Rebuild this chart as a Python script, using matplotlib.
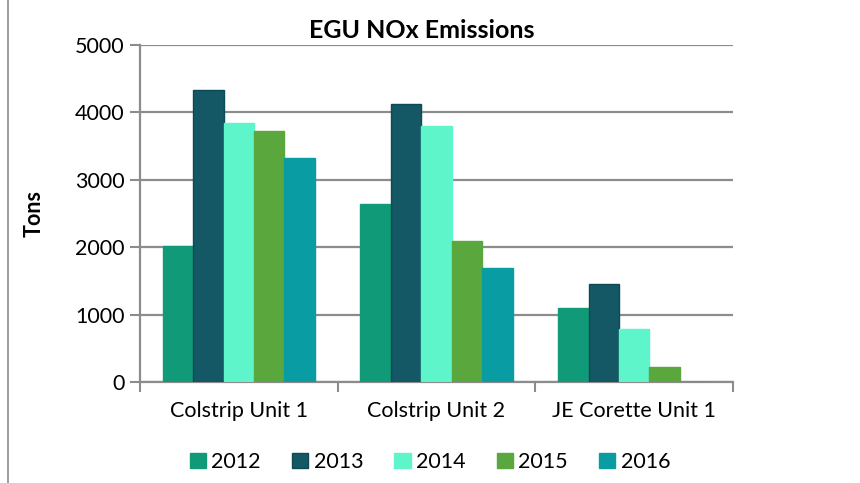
import matplotlib
matplotlib.use("Agg")
import matplotlib.pyplot as plt
import numpy as np
from matplotlib.patches import Patch
from matplotlib.lines import Line2D

plt.rcParams['font.family'] = ['Lato', 'DejaVu Sans']

categories = ["Colstrip Unit 1", "Colstrip Unit 2", "JE Corette Unit 1"]
years = ["2012", "2013", "2014", "2015", "2016"]
v2012 = [2025, 2634, 1104]
v2013 = [4332, 4124, 1455]
v2014 = [3837, 3792, 792]
v2015 = [3723, 2099, 218]
v2016 = [3317, 1698, 0]
series = [v2012, v2013, v2014, v2015, v2016]
colors = ["#109A78", "#135864", "#5FF5CB", "#5AA73D", "#0A9CA3"]
edges = ["#109A78", "#0D4A55", "#5FF5CB", "#5AA73D", "#0A9CA3"]
yticks = [0, 1000, 2000, 3000, 4000, 5000]

W, H = 860, 483
fig = plt.figure(figsize=(W/100, H/100), dpi=100)
ax = fig.add_axes([140/W, (H-382)/H, 593/W, 337/H])

x = np.arange(len(categories))
bw = 1/6.5
for i, (vals, c, e) in enumerate(zip(series, colors, edges)):
    offs = (i - 2) * bw
    ax.bar(x + offs, vals, width=bw, color=c, edgecolor=e, linewidth=1.0,
           label=years[i], zorder=3)

ax.set_xlim(-0.5, len(categories) - 0.5)
ax.set_ylim(0, 5000)
ax.set_yticks(yticks)
ax.set_yticklabels([str(t) for t in yticks], fontsize=15.5)
ax.yaxis.grid(True, color="#8C8C8C", linewidth=1.6, zorder=0)
ax.set_axisbelow(True)

# category labels between boundary ticks
ax.set_xticks(np.arange(-0.5, len(categories)), minor=False)
ax.set_xticklabels([])
ax.set_xticks(x, minor=True)
ax.set_xticklabels(categories, minor=True, fontsize=15.5)
ax.tick_params(axis='x', which='minor', length=0, pad=14)
ax.tick_params(axis='x', which='major', length=7, width=1.5, color="#8C8C8C")
ax.tick_params(axis='y', length=7, width=1.5, color="#8C8C8C", pad=4)

for s in ["top", "right"]:
    ax.spines[s].set_visible(False)
for s in ["left", "bottom"]:
    ax.spines[s].set_color("#8C8C8C")
    ax.spines[s].set_linewidth(1.6)

ax.set_ylabel("Tons", fontsize=15.5, fontweight="bold")
ax.yaxis.set_label_coords((45 - 140) / 593, 0.5)
fig.text(422/W, 1 - 30/H, "EGU NOx Emissions", fontsize=18, fontweight="bold",
         ha="center", va="center")

handles = [Patch(facecolor=c, edgecolor=e) for c, e in zip(colors, edges)]
fig.legend(handles, years, loc="center", bbox_to_anchor=(430/W, 1 - 462/H),
           ncol=5, frameon=False, fontsize=15.5, handlelength=0.75, handleheight=0.75,
           handletextpad=0.25, columnspacing=1.45)

# chart frame line at left
fig.add_artist(Line2D([8/W, 8/W], [0, 1], transform=fig.transFigure,
                      color="#8C8C8C", linewidth=1.2))

fig.savefig("out.png", dpi=100)
